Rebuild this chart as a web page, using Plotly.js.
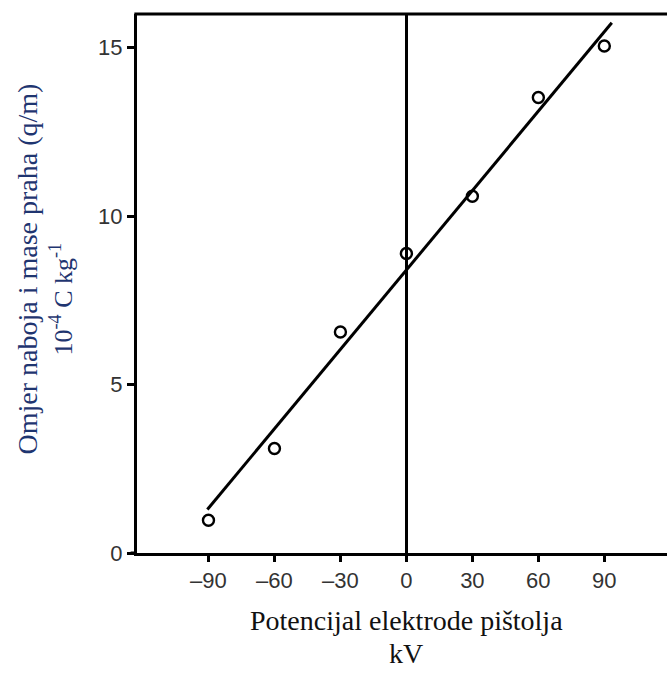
<!DOCTYPE html>
<html>
<head>
<meta charset="utf-8">
<script src="https://cdn.plot.ly/plotly-3.0.1.min.js"></script>
<style>html,body{margin:0;padding:0;background:#fff;}#chart{width:667px;height:673px;}</style>
</head>
<body>
<div id="chart"></div>
<script>
// Measured points: gun electrode potential (kV) vs. charge-to-mass ratio (1e-4 C/kg)
const potentialKV = [-90, -60, -30, 0, 30, 60, 90];
const chargeMass = [0.97, 3.1, 6.56, 8.89, 10.59, 13.52, 15.05];
// Fitted straight line endpoints
const fitKV = [-90.5, 93.4];
const fitQM = [1.29, 15.74];
const xTicks = [-90, -60, -30, 0, 30, 60, 90];
const yTicks = [0, 5, 10, 15];

const serif = '"Liberation Serif", "Times New Roman", serif';
const sans = '"Liberation Sans", Arial, sans-serif';
const titleBlue = '#1f3570';

const traces = [
  {
    x: fitKV, y: fitQM, mode: 'lines', type: 'scatter',
    line: {color: '#000', width: 3}, hoverinfo: 'skip', showlegend: false
  },
  {
    x: potentialKV, y: chargeMass, mode: 'markers', type: 'scatter',
    marker: {symbol: 'circle-open', size: 11, color: '#000', line: {width: 2.4, color: '#000'}},
    showlegend: false
  }
];

const layout = {
  width: 667, height: 673,
  margin: {l: 137, r: 0, t: 14, b: 120},
  paper_bgcolor: '#fff', plot_bgcolor: '#fff',
  showlegend: false,
  xaxis: {
    range: [-122.5, 118.5], tickvals: xTicks, ticktext: xTicks.map(v => v < 0 ? '\u2013' + Math.abs(v) : String(v)),
    showgrid: false, zeroline: true, zerolinecolor: '#000', zerolinewidth: 2.2,
    showline: true, linecolor: '#000', linewidth: 3,
    ticks: 'outside', ticklen: 6, tickwidth: 2.5, tickcolor: '#000',
    tickfont: {family: sans, size: 22, color: '#333'}, fixedrange: true
  },
  yaxis: {
    range: [0, 16], tickvals: yTicks, ticktext: yTicks.map(String),
    showgrid: false, zeroline: false,
    showline: true, linecolor: '#000', linewidth: 3,
    ticks: 'outside', ticklen: 7, tickwidth: 3, tickcolor: '#000',
    tickfont: {family: sans, size: 22, color: '#333'}, fixedrange: true
  },
  shapes: [
    {type: 'line', xref: 'paper', yref: 'paper', x0: -0.005, x1: 1, y0: 1, y1: 1, line: {color: '#000', width: 3}},
    {type: 'line', xref: 'paper', yref: 'paper', x0: -0.012, x1: 0, y0: 0, y1: 0, line: {color: '#000', width: 3}, yshift: 0}
  ],
  annotations: [
    {xref: 'x', yref: 'paper', x: 0, y: 0, yshift: -67, text: 'Potencijal elektrode pištolja', showarrow: false,
     xanchor: 'center', yanchor: 'middle', font: {family: serif, size: 28, color: '#111'}},
    {xref: 'x', yref: 'paper', x: 0, y: 0, yshift: -100, text: 'kV', showarrow: false,
     xanchor: 'center', yanchor: 'middle', font: {family: serif, size: 28, color: '#111'}},
    {xref: 'paper', yref: 'paper', x: 0, xshift: -110, y: 0.5, yshift: 14, text: 'Omjer naboja i mase praha (q/m)', showarrow: false,
     textangle: -90, xanchor: 'center', yanchor: 'middle', font: {family: serif, size: 28, color: titleBlue}},
    {xref: 'paper', yref: 'paper', x: 0, xshift: -75, y: 0.5, yshift: -16, text: '10<sup>-4</sup> C kg<sup>-1</sup>', showarrow: false,
     textangle: -90, xanchor: 'center', yanchor: 'middle', font: {family: serif, size: 26, color: titleBlue}}
  ]
};

Plotly.newPlot('chart', traces, layout, {displayModeBar: false, staticPlot: true});
</script>
</body>
</html>
